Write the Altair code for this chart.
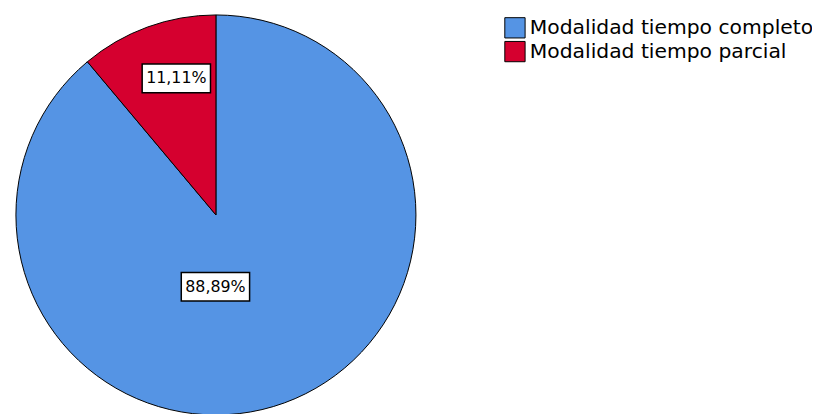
import altair as alt
import pandas as pd

categories = ["Modalidad tiempo completo", "Modalidad tiempo parcial"]
percentages = [88.89, 11.11]
labels = ["88,89%", "11,11%"]
colors = ["#5594E4", "#D5002F"]
order = [0, 1]

df = pd.DataFrame({"cat": categories, "pct": percentages, "label": labels, "ord": order})

W, H = 812, 406
cx, cy = 210, 207
R = 202

base = alt.Chart(df)

pie = base.mark_arc(radius=R, stroke="black", strokeWidth=1).encode(
    theta=alt.Theta("pct:Q", stack=True),
    color=alt.Color(
        "cat:N",
        scale=alt.Scale(domain=categories, range=colors),
        legend=alt.Legend(
            title=None,
            orient="none",
            legendX=501,
            legendY=7,
            symbolType="square",
            symbolSize=420,
            symbolStrokeColor="black",
            symbolStrokeWidth=1,
            symbolOpacity=1,
            labelFontSize=20.5,
            labelFont="DejaVu Sans",
            labelColor="black",
            labelOffset=4,
            labelLimit=400,
            rowPadding=-2,
            padding=0,
        ),
    ),
    order=alt.Order("ord:Q"),
    x=alt.value(cx),
    y=alt.value(cy),
)

label_pos = {"88,89%": (209.5, 279.5), "11,11%": (170, 69)}
bw, bh = 69, 29

layers = [pie]
for lab, (lx, ly) in label_pos.items():
    sub = base.transform_filter(alt.datum.label == lab)
    box = sub.mark_rect(fill="white", stroke="black", strokeWidth=1.5).encode(
        x=alt.value(lx - bw / 2), x2=alt.value(lx + bw / 2),
        y=alt.value(ly - bh / 2), y2=alt.value(ly + bh / 2),
    )
    txt = sub.mark_text(font="DejaVu Sans", fontSize=16, color="black",
                        align="center", baseline="middle").encode(
        text="label:N", x=alt.value(lx), y=alt.value(ly),
    )
    layers += [box, txt]

chart = alt.layer(*layers).properties(
    width=W, height=H, autosize=alt.AutoSizeParams(type="none"), padding=0
).configure_view(stroke=None)

chart.save("out.html", embed_options={"renderer": "svg", "actions": False})
